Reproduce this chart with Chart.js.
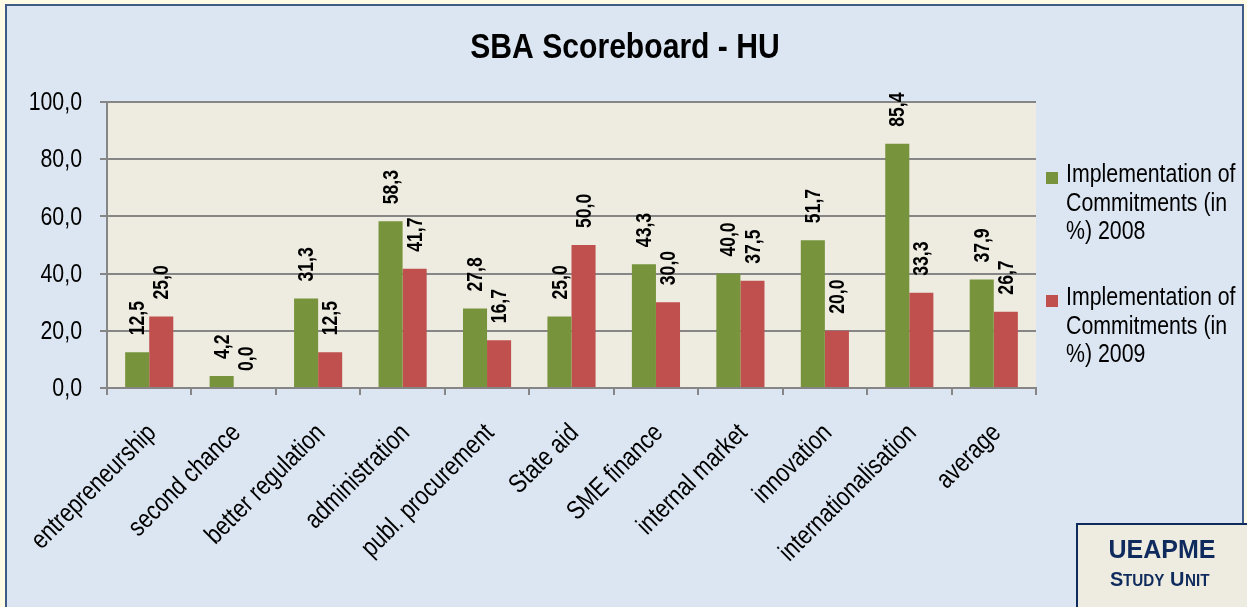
<!DOCTYPE html>
<html>
<head>
<meta charset="utf-8">
<script src="https://cdn.jsdelivr.net/npm/chart.js@4.4.1/dist/chart.umd.min.js"></script>
<style>
  html, body { margin: 0; padding: 0; background: #fffbe5; }
  #wrap { width: 1247px; height: 607px; position: relative; }
</style>
</head>
<body>
<div id="wrap"><canvas id="sba"></canvas></div>
<script>
// data
const categories = ['entrepreneurship', 'second chance', 'better regulation', 'administration',
    'publ. procurement', 'State aid', 'SME finance', 'internal market', 'innovation',
    'internationalisation', 'average'];
const values2008 = [12.5, 4.2, 31.3, 58.3, 27.8, 25.0, 43.3, 40.0, 51.7, 85.4, 37.9];
const values2009 = [25.0, 0.0, 12.5, 41.7, 16.7, 50.0, 30.0, 37.5, 20.0, 33.3, 26.7];
const legendLines2008 = ['Implementation of', 'Commitments (in', '%) 2008'];
const legendLines2009 = ['Implementation of', 'Commitments (in', '%) 2009'];
const yTicks = [0, 20, 40, 60, 80, 100];

// no Arial Narrow here, so squeeze Liberation Sans horizontally
const FONT = '"Liberation Sans", Arial, sans-serif';
const fmt = v => v.toFixed(1).replace('.', ',');

function narrowText(c, text, x, y, font, opts) {
    const o = Object.assign({align: 'left', baseline: 'middle', angle: 0, sx: 0.82, color: '#000'}, opts);
    c.save();
    c.translate(x, y);
    c.rotate(o.angle);
    c.scale(o.sx, 1);
    c.font = font;
    c.fillStyle = o.color;
    c.textAlign = o.align;
    c.textBaseline = o.baseline;
    c.fillText(text, 0, 0);
    c.restore();
}

// frame, plot background, title, legend, logo box
const decorPlugin = {
    id: 'decor',
    beforeDraw(chart) {
        const c = chart.ctx;
        const a = chart.chartArea;
        c.save();
        c.fillStyle = '#fffbe5';
        c.fillRect(0, 0, chart.width, chart.height);
        c.fillStyle = '#dce6f2';
        c.fillRect(6, 5, 1237, 610);
        c.strokeStyle = '#3f5b88';
        c.lineWidth = 2;
        c.strokeRect(6, 5, 1237, 620);
        c.fillStyle = '#eeece1';
        c.fillRect(a.left, a.top, a.right - a.left, a.bottom - a.top);
        c.restore();
    },
    afterDraw(chart) {
        const c = chart.ctx;
        // title
        narrowText(c, 'SBA Scoreboard - HU', 625, 48, 'bold 35px ' + FONT, {align: 'center', sx: 0.86});

        // axis labels
        const xs = chart.scales.x, ys = chart.scales.y;
        yTicks.forEach(v => {
            narrowText(c, fmt(v), 82, ys.getPixelForValue(v) + 1, '26px ' + FONT, {align: 'right'});
        });
        categories.forEach((name, i) => {
            narrowText(c, name, xs.getPixelForValue(i) + 3, 429, '26.5px ' + FONT,
                {align: 'right', angle: -Math.PI / 4});
        });

        // legend
        const items = [
            {lines: legendLines2008, color: chart.data.datasets[0].backgroundColor, top: 175},
            {lines: legendLines2009, color: chart.data.datasets[1].backgroundColor, top: 298}
        ];
        items.forEach(it => {
            c.fillStyle = it.color;
            c.fillRect(1046, it.top - 3, 12, 12);
            it.lines.forEach((ln, i) => narrowText(c, ln, 1066, it.top + i * 28.5, '26px ' + FONT));
        });

        // UEAPME box
        c.save();
        c.fillStyle = '#eeece1';
        c.fillRect(1077, 524, 180, 100);
        c.strokeStyle = '#0f2a5c';
        c.lineWidth = 2;
        c.strokeRect(1077, 524, 180, 100);
        c.restore();
        const navy = {color: '#0f2a5c', align: 'center', sx: 1.0};
        narrowText(c, 'UEAPME', 1162, 551, 'bold 25px ' + FONT, navy);
        const small = {color: '#0f2a5c', align: 'left', sx: 0.95, baseline: 'alphabetic'};
        narrowText(c, 'S', 1110, 586, 'bold 21px ' + FONT, small);
        narrowText(c, 'TUDY', 1123, 586, 'bold 16px ' + FONT, small);
        narrowText(c, 'U', 1170, 586, 'bold 21px ' + FONT, small);
        narrowText(c, 'NIT', 1185, 586, 'bold 16px ' + FONT, small);
    }
};

// vertical value labels above bars
const barLabelPlugin = {
    id: 'barLabels',
    afterDatasetsDraw(chart) {
        const c = chart.ctx;
        chart.data.datasets.forEach((ds, di) => {
            chart.getDatasetMeta(di).data.forEach((bar, i) => {
                narrowText(c, fmt(ds.data[i]), bar.x + 1, bar.y - 17, 'bold 22px ' + FONT,
                    {angle: -Math.PI / 2, sx: 0.8});
            });
        });
    }
};

const ctx = document.getElementById('sba');
new Chart(ctx, {
    type: 'bar',
    data: {
        labels: categories,
        datasets: [{
                label: 'Implementation of Commitments (in %) 2008',
                data: values2008,
                backgroundColor: '#77933c',
                borderWidth: 0,
                barPercentage: 1.0,
                categoryPercentage: 0.57
            }, {
                label: 'Implementation of Commitments (in %) 2009',
                data: values2009,
                backgroundColor: '#c0504d',
                borderWidth: 0,
                barPercentage: 1.0,
                categoryPercentage: 0.57
            }]
    },
    options: {
        responsive: true,
        maintainAspectRatio: false,
        animation: false,
        layout: {padding: {left: 0, top: 102, right: 211, bottom: 0}},
        scales: {
            x: {
                afterFit: scale => { scale.height = 219; },
                border: {display: true, color: '#868686', width: 2},
                grid: {drawOnChartArea: false, drawTicks: true, tickLength: 7, color: '#868686', lineWidth: 2, offset: true},
                ticks: {display: false, autoSkip: false}
            },
            y: {
                min: 0,
                max: 100,
                afterFit: scale => { scale.width = 107; },
                afterBuildTicks: scale => { scale.ticks = yTicks.map(v => ({value: v})); },
                border: {display: true, color: '#868686', width: 2},
                grid: {color: '#868686', lineWidth: 2, tickLength: 7},
                ticks: {display: false}
            }
        },
        plugins: {
            legend: {display: false},
            title: {display: false},
            tooltip: {enabled: false}
        }
    },
    plugins: [decorPlugin, barLabelPlugin]
});
</script>
</body>
</html>
